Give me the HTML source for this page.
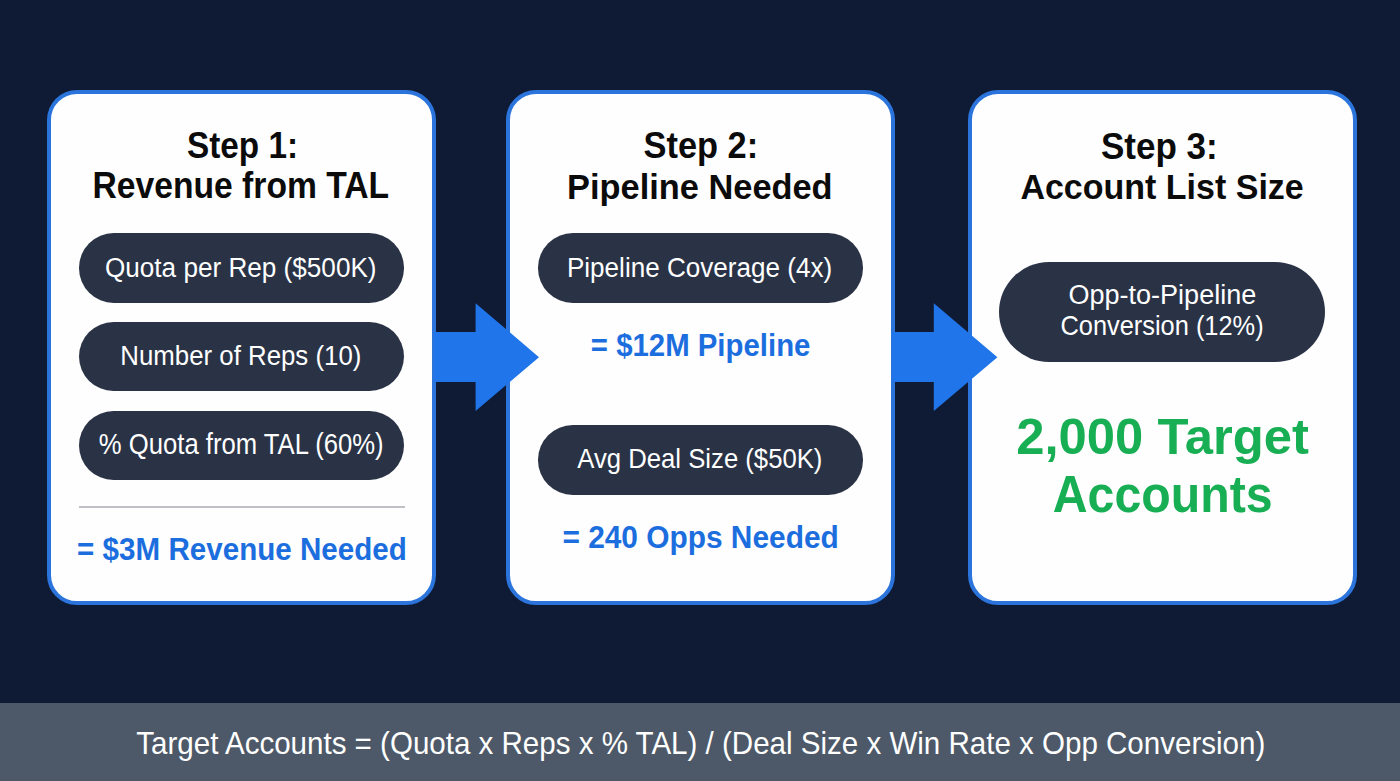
<!DOCTYPE html>
<html>
<head>
<meta charset="utf-8">
<style>
html,body{margin:0;padding:0;}
body{width:1400px;height:781px;overflow:hidden;background:#0f1b35;position:relative;font-family:"Liberation Sans",sans-serif;}
.card{position:absolute;box-sizing:border-box;background:#fefefe;border:4px solid #2a74dc;border-radius:30px;}
.t{position:absolute;white-space:nowrap;}
.pill{position:absolute;background:#2a3346;}
.div{position:absolute;background:#bfc1c7;}
.foot{position:absolute;left:0;width:1400px;background:#4d5968;}
</style>
</head>
<body>
<div class="card" style="left:47px;top:90px;width:389px;height:515px;"></div>
<div class="card" style="left:506px;top:90px;width:388.5px;height:515px;"></div>
<div class="card" style="left:968px;top:90px;width:389px;height:515px;"></div>
<div class="pill" style="left:79px;top:233px;width:325px;height:69.5px;border-radius:34.75px;"></div>
<div class="pill" style="left:79px;top:322px;width:325px;height:69px;border-radius:34.5px;"></div>
<div class="pill" style="left:79px;top:410.5px;width:325px;height:69.5px;border-radius:34.75px;"></div>
<div class="pill" style="left:538px;top:233px;width:325px;height:69.7px;border-radius:34.85px;"></div>
<div class="pill" style="left:537.5px;top:425px;width:325.5px;height:69.6px;border-radius:34.8px;"></div>
<div class="pill" style="left:999.3px;top:261.7px;width:325.7px;height:100.0px;border-radius:50.0px;"></div>
<div class="div" style="left:78.7px;top:506.3px;width:325.9px;height:1.8px;"></div>
<div class="foot" style="top:703px;height:78px;"></div>
<svg style="position:absolute;left:0;top:0;" width="1400" height="781">
<polygon fill="#1f75e9" points="434,332 475.6,332 475.6,303.3 539,357.2 475.6,411 475.6,382 434,382"/>
<polygon fill="#1f75e9" points="892,332 933.8,332 933.8,303.3 997.4,357.2 933.8,411 933.8,382 892,382"/>
</svg>
<div class="t" style="left:187.0px;top:130.16px;font-size:33.3px;line-height:33.3px;font-weight:700;color:#0b0b0b;transform:scaleY(1.096);transform-origin:0 28.24px;">Step 1:</div>
<div class="t" style="left:92.54px;top:170.47px;font-size:33.65px;line-height:33.65px;font-weight:700;color:#0b0b0b;transform:scaleY(1.084);transform-origin:0 28.54px;">Revenue from TAL</div>
<div class="t" style="left:643.47px;top:129.31px;font-size:34.42px;line-height:34.42px;font-weight:700;color:#0b0b0b;transform:scaleY(1.056);transform-origin:0 29.19px;">Step 2:</div>
<div class="t" style="left:567.09px;top:169.54px;font-size:34.39px;line-height:34.39px;font-weight:700;color:#0b0b0b;transform:scaleY(1.031);transform-origin:0 29.16px;">Pipeline Needed</div>
<div class="t" style="left:1100.95px;top:128.78px;font-size:35.05px;line-height:35.05px;font-weight:700;color:#0b0b0b;transform:scaleY(1.037);transform-origin:0 29.72px;">Step 3:</div>
<div class="t" style="left:1020.38px;top:169.86px;font-size:34.01px;line-height:34.01px;font-weight:700;color:#0b0b0b;transform:scaleY(1.043);transform-origin:0 28.84px;">Account List Size</div>
<div class="t" style="left:104.99px;top:254.94px;font-size:26.13px;line-height:26.13px;font-weight:400;color:#ffffff;transform:scaleY(1.063);transform-origin:0 22.16px;">Quota per Rep ($500K)</div>
<div class="t" style="left:120.33px;top:343.91px;font-size:25.82px;line-height:25.82px;font-weight:400;color:#ffffff;transform:scaleY(1.07);transform-origin:0 21.90px;">Number of Reps (10)</div>
<div class="t" style="left:98.77px;top:432.93px;font-size:25.68px;line-height:25.68px;font-weight:400;color:#ffffff;transform:scaleY(1.115);transform-origin:0 21.78px;">% Quota from TAL (60%)</div>
<div class="t" style="left:566.91px;top:254.98px;font-size:26.08px;line-height:26.08px;font-weight:400;color:#ffffff;transform:scaleY(1.048);transform-origin:0 22.12px;">Pipeline Coverage (4x)</div>
<div class="t" style="left:577.3px;top:446.81px;font-size:25.7px;line-height:25.7px;font-weight:400;color:#ffffff;transform:scaleY(1.063);transform-origin:0 21.79px;">Avg Deal Size ($50K)</div>
<div class="t" style="left:1068.45px;top:282.27px;font-size:27.04px;line-height:27.04px;font-weight:400;color:#ffffff;transform:scaleY(1.005);transform-origin:0 22.93px;">Opp-to-Pipeline</div>
<div class="t" style="left:1060.43px;top:314.26px;font-size:25.4px;line-height:25.4px;font-weight:400;color:#ffffff;transform:scaleY(1.076);transform-origin:0 21.54px;">Conversion (12%)</div>
<div class="t" style="left:77.12px;top:534.6px;font-size:29.6px;line-height:29.6px;font-weight:700;color:#1c6ede;transform:scaleY(1.036);transform-origin:0 25.10px;">= $3M Revenue Needed</div>
<div class="t" style="left:590.82px;top:330.99px;font-size:29.38px;line-height:29.38px;font-weight:700;color:#1c6ede;transform:scaleY(1.064);transform-origin:0 24.91px;">= $12M Pipeline</div>
<div class="t" style="left:562.41px;top:522.57px;font-size:29.87px;line-height:29.87px;font-weight:700;color:#1c6ede;transform:scaleY(1.056);transform-origin:0 25.33px;">= 240 Opps Needed</div>
<div class="t" style="left:1016.18px;top:412.02px;font-size:50.8px;line-height:50.8px;font-weight:700;color:#17ae54;transform:scaleY(1.001);transform-origin:0 43.08px;">2,000 Target</div>
<div class="t" style="left:1052.75px;top:471.0px;font-size:48.24px;line-height:48.24px;font-weight:700;color:#17ae54;transform:scaleY(1.055);transform-origin:0 40.91px;">Accounts</div>
<div class="t" style="left:136.31px;top:728.95px;font-size:29.54px;line-height:29.54px;font-weight:400;color:#ffffff;transform:scaleY(1.073);transform-origin:0 25.05px;">Target Accounts = (Quota x Reps x % TAL) / (Deal Size x Win Rate x Opp Conversion)</div>
</body>
</html>
